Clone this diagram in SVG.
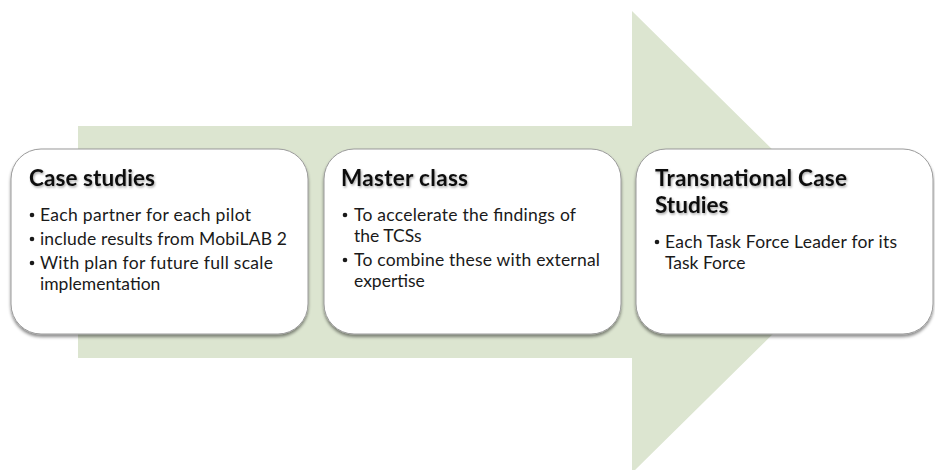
<svg xmlns="http://www.w3.org/2000/svg" width="935" height="470" viewBox="0 0 935 470">
  <defs>
    <style>
      .arrow { fill: #dce5d0; }
      .box { fill: #ffffff; stroke: #9a9a9a; stroke-width: 1; filter: url(#boxShadow); }
      .title { font-family: Lato, "Open Sans", sans-serif; font-weight: bold; font-size: 22.5px; fill: #111111; filter: url(#textShadow); }
      .item { font-family: Lato, "Open Sans", sans-serif; font-size: 17.5px; fill: #1a1a1a; }
      .dot { fill: #1a1a1a; }
    </style>
    <filter id="boxShadow" x="-5%" y="-5%" width="110%" height="115%">
      <feDropShadow dx="0" dy="2.5" stdDeviation="1.8" flood-color="#000000" flood-opacity="0.45"/>
    </filter>
    <filter id="textShadow" x="-5%" y="-20%" width="110%" height="150%">
      <feDropShadow dx="1" dy="1.5" stdDeviation="1" flood-color="#000000" flood-opacity="0.35"/>
    </filter>
  </defs>

  <!-- background process arrow -->
  <polygon class="arrow" points="78,126 632,126 632,11 866,242 632,473 632,358 78,358"/>

  <!-- step 1 -->
  <g id="case-studies">
    <rect class="box" x="11" y="149" width="297" height="185" rx="30" ry="30"/>
    <text class="title" x="29" y="186" textLength="126" lengthAdjust="spacing">Case studies</text>
    <circle class="dot" cx="32" cy="215" r="2.3"/>
    <text class="item" x="40" y="221" textLength="211" lengthAdjust="spacing">Each partner for each pilot</text>
    <circle class="dot" cx="32" cy="239" r="2.3"/>
    <text class="item" x="40" y="245" textLength="247" lengthAdjust="spacing">include results from MobiLAB 2</text>
    <circle class="dot" cx="32" cy="263" r="2.3"/>
    <text class="item" x="40" y="269" textLength="233" lengthAdjust="spacing">With plan for future full scale</text>
    <text class="item" x="40" y="290">implementation</text>
  </g>

  <!-- step 2 -->
  <g id="master-class">
    <rect class="box" x="324" y="149" width="297" height="185" rx="30" ry="30"/>
    <text class="title" x="341" y="186" textLength="127" lengthAdjust="spacing">Master class</text>
    <circle class="dot" cx="345" cy="215" r="2.3"/>
    <text class="item" x="354" y="221" textLength="222" lengthAdjust="spacing">To accelerate the findings of</text>
    <text class="item" x="354" y="242">the TCSs</text>
    <circle class="dot" cx="345" cy="260" r="2.3"/>
    <text class="item" x="354" y="266" textLength="246" lengthAdjust="spacing">To combine these with external</text>
    <text class="item" x="354" y="287">expertise</text>
  </g>

  <!-- step 3 -->
  <g id="transnational-case-studies">
    <rect class="box" x="636" y="149" width="297" height="185" rx="30" ry="30"/>
    <text class="title" x="655" y="186" textLength="192" lengthAdjust="spacing">Transnational Case</text>
    <text class="title" x="655" y="213">Studies</text>
    <circle class="dot" cx="657" cy="242" r="2.3"/>
    <text class="item" x="665" y="248" textLength="232" lengthAdjust="spacing">Each Task Force Leader for its</text>
    <text class="item" x="665" y="269">Task Force</text>
  </g>

  <g id="connectors"/>
</svg>
